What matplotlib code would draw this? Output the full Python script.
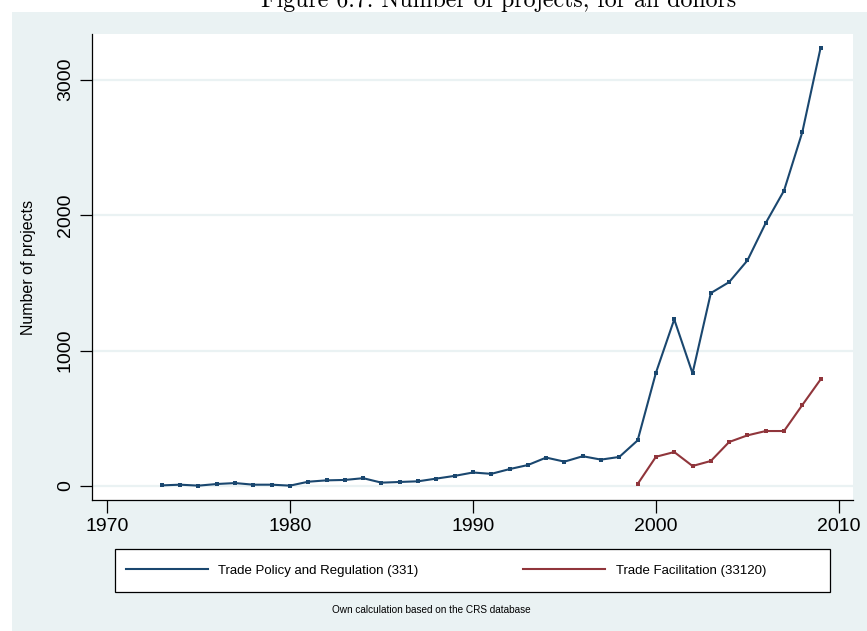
import matplotlib
matplotlib.use('Agg')
import matplotlib.pyplot as plt
from matplotlib.patches import Rectangle
from matplotlib.lines import Line2D

# data
years_tpr = list(range(1973, 2010))
projects_tpr = [5, 10, 3, 15, 22, 10, 10, 3, 32, 42, 45, 58, 25,
                30, 35, 55, 75, 100, 90, 125, 155, 210, 180, 220, 195,
                215, 337, 836, 1230, 832, 1424, 1505, 1665, 1941, 2180,
                2612, 3235]
years_tf = list(range(1999, 2010))
projects_tf = [15, 216, 251, 148, 185, 325, 374, 406, 406, 598, 787]

xticks = [1970, 1980, 1990, 2000, 2010]
yticks = [0, 1000, 2000, 3000]
series_labels = ['Trade Policy and Regulation (331)', 'Trade Facilitation (33120)']

blue = '#1a476f'
red = '#90353b'
bg = '#eaf2f3'

W, H = 867, 631
fig = plt.figure(figsize=(W / 100, H / 100), dpi=100)
fig.patch.set_facecolor('white')

# stata outer region
fig.patches.append(Rectangle((12 / W, 0), 1, 1 - 12 / H, transform=fig.transFigure,
                             facecolor=bg, edgecolor='none', zorder=0))

# page caption, cut at the top like the source
fig.text(499 / W, 1 - 7 / H, 'Figure 6.7: Number of projects, for all donors',
         ha='center', va='baseline', fontsize=17.2, family='cmr10')

ax = fig.add_axes([92 / W, 1 - 500 / H, (853 - 92) / W, (500 - 34) / H])
ax.set_facecolor('white')
ax.set_zorder(2)

ax.plot(years_tpr, projects_tpr, color=blue, lw=1.5, marker='s', ms=2.7, mew=0)
ax.plot(years_tf, projects_tf, color=red, lw=1.5, marker='s', ms=2.7, mew=0)

ax.set_xlim(1969.18, 2010.77)
ax.set_ylim(-103, 3336)
ax.set_xticks(xticks)
ax.set_yticks(yticks)
ax.grid(axis='y', color=bg, lw=1.6)
ax.set_axisbelow(True)
for s in ['top', 'right']:
    ax.spines[s].set_visible(False)
for s in ['left', 'bottom']:
    ax.spines[s].set_linewidth(0.9)

ax.tick_params(length=9, width=0.9, pad=4)
for lab in ax.get_xticklabels():
    lab.set_family('Liberation Sans')
    lab.set_fontsize(14)
for lab in ax.get_yticklabels():
    lab.set_family('Liberation Sans')
    lab.set_fontsize(14)
    lab.set_rotation(90)
    lab.set_va('center')

ax.set_ylabel('Number of projects', family='Liberation Sans', fontsize=11.5)
ax.yaxis.set_label_coords(36 / W, 1 - 267 / H, transform=fig.transFigure)

# legend
fig.patches.append(Rectangle((115 / W, 1 - 592 / H), 715 / W, 43 / H, transform=fig.transFigure,
                             facecolor='white', edgecolor='black', lw=0.9, zorder=1))
handles = [Line2D([], [], color=blue, lw=1.5), Line2D([], [], color=red, lw=1.5)]
leg = fig.legend(handles, series_labels, loc='center left', ncol=2,
                 bbox_to_anchor=(114 / W, 1 - 570.5 / H), frameon=False,
                 prop={'family': 'Liberation Sans', 'size': 9.5},
                 handlelength=6.2, handletextpad=0.8, columnspacing=7.95)
leg.set_zorder(3)

fig.text(431 / W, 1 - 610 / H, 'Own calculation based on the CRS database',
         ha='center', va='center', family='Liberation Sans', fontsize=7.2)

fig.savefig('out.png', dpi=100)
